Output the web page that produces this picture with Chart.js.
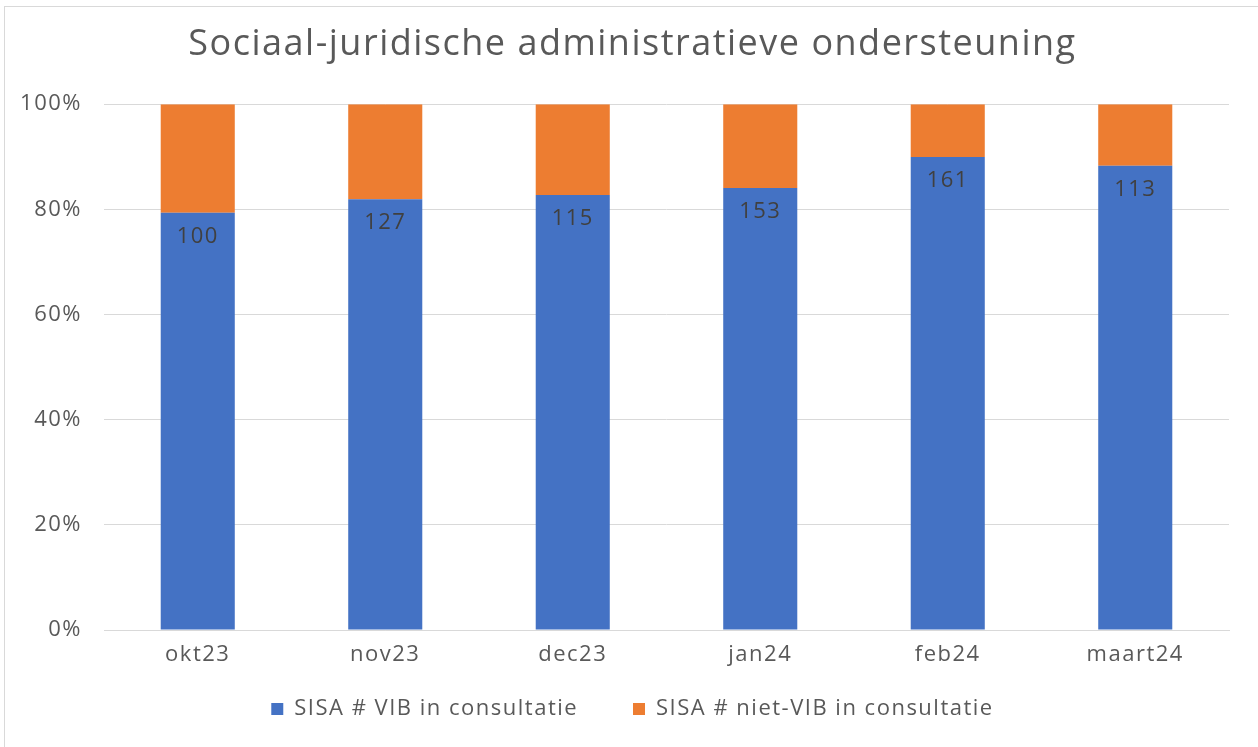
<!DOCTYPE html>
<html>
<head>
<meta charset="utf-8">
<script src="https://cdn.jsdelivr.net/npm/chart.js@4.4.1/dist/chart.umd.min.js"></script>
<style>
  html, body { margin: 0; padding: 0; background: #fff; }
  #wrap { position: relative; width: 1258px; height: 747px; overflow: hidden; }
  #frame { position: absolute; left: 4px; top: 6px; width: 1400px; height: 900px; border: 1px solid #d9d9d9; box-sizing: border-box; pointer-events: none; }
</style>
</head>
<body>
<div id="wrap">
  <canvas id="chart" width="1258" height="747"></canvas>
  <div id="frame"></div>
</div>
<script>
// Data
const months = ['okt23', 'nov23', 'dec23', 'jan24', 'feb24', 'maart24'];
const vibCounts = [100, 127, 115, 153, 161, 113];
const nietVibCounts = [26, 28, 24, 29, 18, 15];
const yTicks = [0, 20, 40, 60, 80, 100];

const FONT = '"Open Sans", "Noto Sans", sans-serif';
const GREY = '#595959';

// 100% stacked: convert to shares of the month total
const totals = vibCounts.map((v, i) => v + nietVibCounts[i]);
const vibPct = vibCounts.map((v, i) => v / totals[i] * 100);
const nietVibPct = nietVibCounts.map((v, i) => v / totals[i] * 100);

// wider letter spacing, like the Office font in the original
const spacing = {
  id: 'spacing',
  beforeLayout(chart) { chart.ctx.letterSpacing = '1.5px'; },
  beforeDraw(chart) { chart.ctx.letterSpacing = '1.5px'; }
};

// Draw the counts inside the blue bars
const countLabels = {
  id: 'countLabels',
  afterDatasetsDraw(chart) {
    const ctx = chart.ctx;
    const meta = chart.getDatasetMeta(0);
    ctx.save();
    ctx.font = '22px ' + FONT;
    ctx.fillStyle = '#404040';
    ctx.textAlign = 'center';
    ctx.textBaseline = 'middle';
    meta.data.forEach((bar, i) => {
      ctx.fillText(String(vibCounts[i]), bar.x, bar.y + 24);
    });
    ctx.restore();
  }
};

new Chart(document.getElementById('chart'), {
  type: 'bar',
  data: {
    labels: months,
    datasets: [
      {
        label: 'SISA # VIB in consultatie',
        data: vibPct,
        backgroundColor: '#4472C4',
        borderWidth: 0
      },
      {
        label: 'SISA # niet-VIB in consultatie',
        data: nietVibPct,
        backgroundColor: '#ED7D31',
        borderWidth: 0
      }
    ]
  },
  options: {
    responsive: false,
    animation: false,
    layout: { padding: { left: 10, right: 3, top: 0, bottom: 17 } },
    datasets: { bar: { categoryPercentage: 1, barPercentage: 0.395 } },
    plugins: {
      title: {
        display: true,
        text: 'Sociaal-juridische administratieve ondersteuning',
        color: GREY,
        font: { family: FONT, size: 36, weight: 'normal' },
        padding: { top: 23, bottom: 38 }
      },
      legend: {
        position: 'bottom',
        labels: {
          color: GREY,
          font: { family: FONT, size: 22 },
          boxWidth: 12,
          boxHeight: 12,
          padding: 26,
          generateLabels(chart) {
            const items = Chart.defaults.plugins.legend.labels.generateLabels(chart);
            // a little extra room between the two entries
            items.forEach((it, i) => { if (i < items.length - 1) it.text += '    '; });
            return items;
          }
        }
      },
      tooltip: { enabled: false }
    },
    scales: {
      x: {
        stacked: true,
        afterFit(scale) { scale.height = 42; },
        grid: { display: false, drawTicks: false },
        border: { display: true, color: '#d9d9d9', width: 1 },
        ticks: { color: GREY, font: { family: FONT, size: 22 }, padding: 12 }
      },
      y: {
        stacked: true,
        min: 0,
        max: 100,
        afterBuildTicks(scale) {
          scale.ticks = yTicks.map(v => ({ value: v }));
        },
        afterFit(scale) { scale.width = 94; },
        grid: { color: '#d9d9d9', lineWidth: 1, drawTicks: false },
        border: { display: false },
        ticks: {
          color: GREY,
          font: { family: FONT, size: 22 },
          padding: 22,
          callback: v => v + '%'
        }
      },
      // empty right margin so the title centres like the original
      yRight: {
        position: 'right',
        afterFit(scale) { scale.width = 26; },
        grid: { display: false, drawTicks: false },
        border: { display: false },
        ticks: { display: false }
      }
    }
  },
  plugins: [spacing, countLabels]
});
</script>
</body>
</html>
